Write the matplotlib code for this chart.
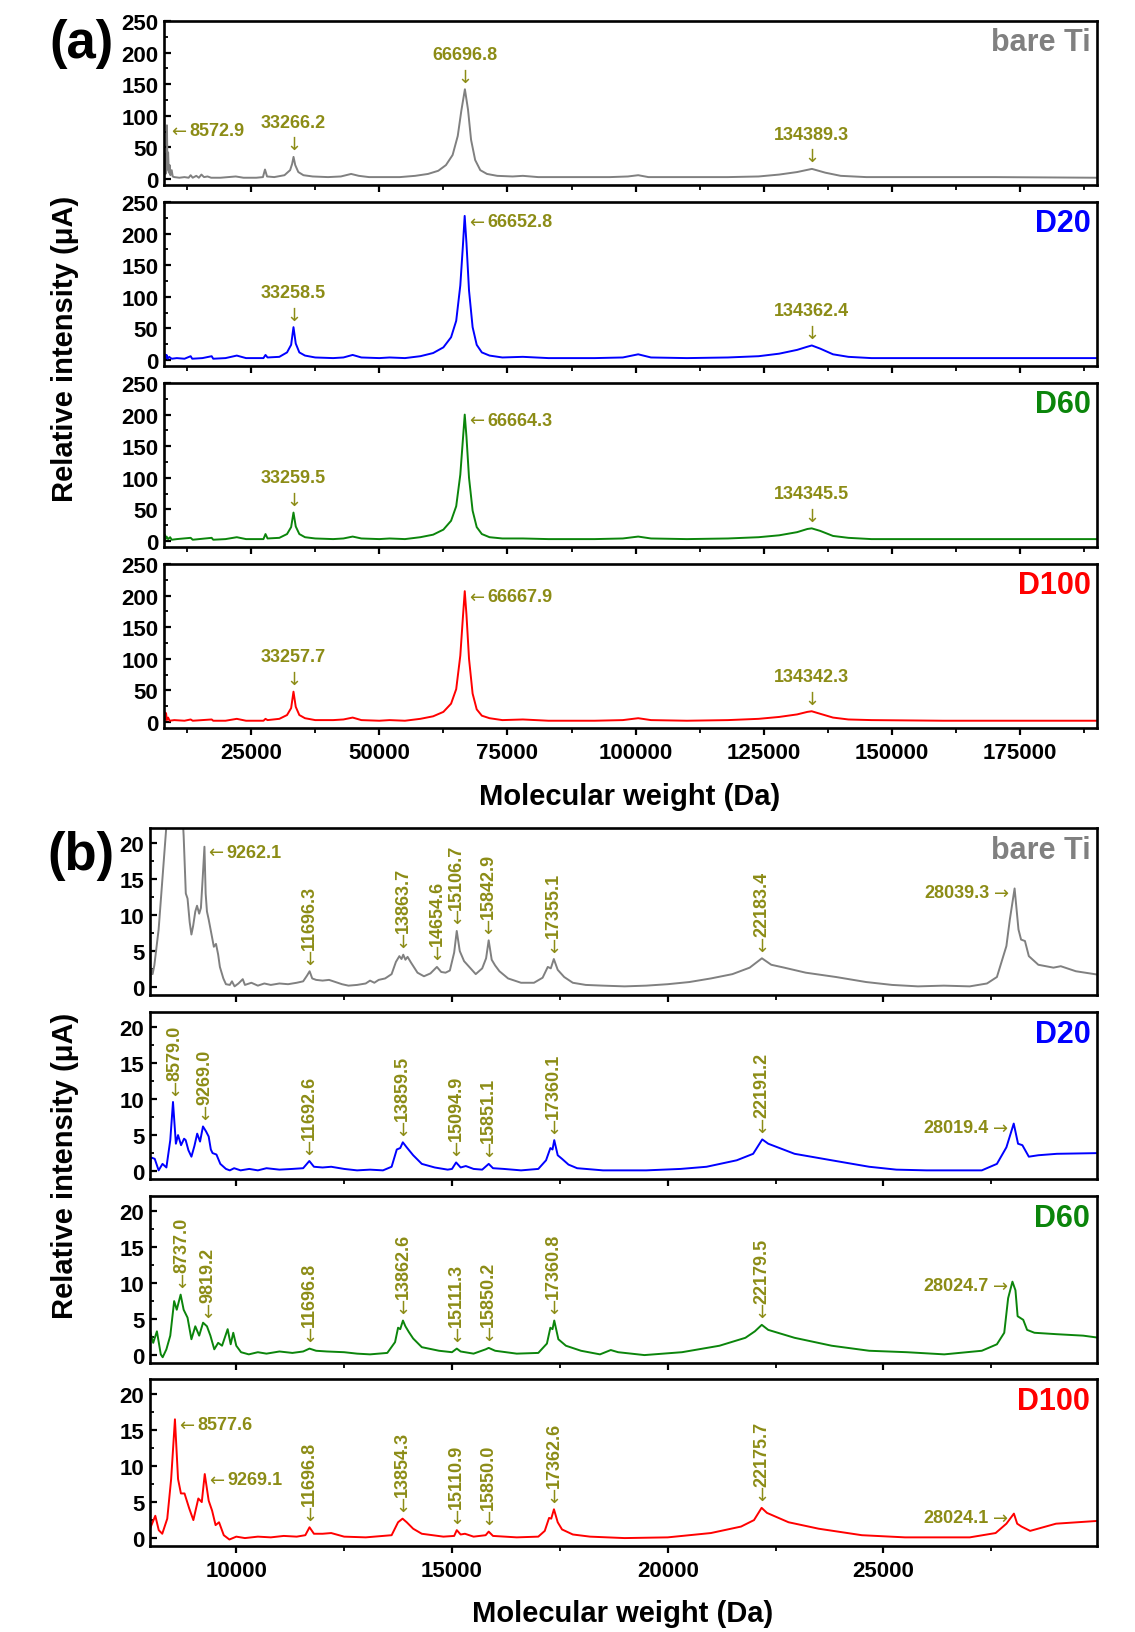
import matplotlib
matplotlib.use('Agg')
import matplotlib.pyplot as plt
from matplotlib.ticker import MultipleLocator
import numpy as np

plt.rcParams['font.family'] = ['Liberation Sans', 'DejaVu Sans']
plt.rcParams['font.weight'] = 'bold'

# ---------------- data ----------------
names = ['bare Ti', 'D20', 'D60', 'D100']
colors = ['#808080', '#0000ff', '#0b850b', '#ff0000']
ann_color = '#8c8c16'

# panel (a): full range spectra (x in Da, y in uA)
a_bare = [(8000, 3), (8150, 40), (8300, 8), (8450, 12), (8573, 85), (8680, 15), (8800, 42), (8950, 10),
          (9100, 22), (9250, 6), (9500, 14), (9700, 4), (10000, 3), (11000, 2), (12000, 3), (12800, 2),
          (13200, 6), (13600, 2), (14300, 5), (14800, 2), (15300, 7), (15800, 3), (16500, 4), (17200, 2),
          (19000, 2), (20500, 3), (22000, 4), (23500, 2), (26000, 2), (27300, 3), (27700, 15), (28100, 4),
          (29500, 3), (31500, 6), (32600, 14), (33000, 24), (33266, 35), (33600, 22), (34200, 11),
          (35200, 6), (37000, 4), (40000, 3), (42500, 4), (44500, 8), (46000, 5), (48000, 3), (51000, 3),
          (54000, 3), (57000, 5), (59500, 8), (61500, 13), (63000, 22), (64300, 38), (65300, 68),
          (66000, 108), (66697, 142), (67300, 110), (67900, 62), (68700, 30), (69700, 14), (71000, 8),
          (73000, 5), (76000, 4), (78000, 5), (81000, 3), (88000, 3), (95000, 3), (98500, 4),
          (100500, 6), (102500, 3), (110000, 3), (118000, 3), (124000, 4), (128000, 7), (131500, 11),
          (134389, 16), (137000, 10), (140000, 5), (145000, 3), (155000, 3), (170000, 3), (190000, 2)]
a_d20 = [(8000, 4), (8200, 9), (8350, 3), (8500, 8), (8700, 2), (9000, 5), (9500, 2), (10500, 3),
         (12000, 2), (13200, 6), (13500, 2), (15500, 3), (17300, 6), (17600, 2), (20000, 3), (22200, 7),
         (24000, 3), (27400, 3), (27800, 8), (28200, 4), (30500, 5), (32000, 12), (32800, 24),
         (33258, 52), (33700, 26), (34400, 12), (35500, 7), (37500, 4), (41000, 3), (43000, 4),
         (44800, 8), (46500, 4), (50000, 3), (52000, 4), (55000, 3), (58000, 6), (60500, 11),
         (62500, 20), (64000, 36), (65000, 62), (65800, 118), (66300, 180), (66653, 228), (67000, 185),
         (67500, 110), (68200, 52), (69000, 24), (70000, 12), (71500, 7), (74000, 4), (78000, 5),
         (83000, 3), (92000, 3), (97500, 4), (100500, 9), (103000, 4), (110000, 3), (118000, 4),
         (124000, 6), (128000, 10), (131500, 16), (133500, 21), (134362, 23), (136000, 18), (138500, 9),
         (141500, 5), (146000, 3), (160000, 3), (175000, 3), (190000, 3)]
a_d60 = [(8000, 5), (8150, 10), (8300, 3), (8500, 7), (8800, 3), (9200, 6), (9500, 2), (10500, 3),
         (13200, 5), (13600, 2), (17300, 5), (17600, 2), (20000, 3), (22200, 6), (24000, 3), (27400, 3),
         (27800, 11), (28200, 4), (30500, 5), (32000, 11), (32800, 22), (33260, 45), (33700, 23),
         (34400, 11), (35500, 6), (37500, 4), (41000, 3), (43000, 4), (44800, 7), (46500, 4), (50000, 3),
         (52000, 4), (55000, 3), (58000, 6), (60500, 10), (62500, 18), (64000, 32), (65000, 55),
         (65800, 105), (66300, 160), (66664, 200), (67000, 165), (67500, 100), (68200, 48), (69000, 22),
         (70000, 11), (71500, 6), (74000, 4), (78000, 4), (83000, 3), (92000, 3), (97500, 4),
         (100500, 7), (103000, 4), (110000, 3), (118000, 4), (124000, 6), (128000, 9), (131500, 14),
         (133500, 19), (134345, 20), (136000, 16), (138500, 8), (141500, 5), (146000, 3), (160000, 3),
         (175000, 3), (190000, 3)]
a_d100 = [(8000, 8), (8100, 16), (8250, 4), (8400, 14), (8550, 3), (8800, 7), (9100, 2), (10000, 3),
          (12000, 2), (13200, 4), (13600, 2), (17300, 4), (17600, 2), (20000, 2), (22200, 5), (24000, 2),
          (27400, 2), (27800, 5), (28200, 3), (30500, 5), (32000, 11), (32800, 22), (33258, 48),
          (33700, 24), (34400, 11), (35500, 6), (37500, 3), (41000, 3), (43000, 4), (44800, 7),
          (46500, 3), (50000, 2), (52000, 3), (55000, 2), (58000, 5), (60500, 9), (62500, 16),
          (64000, 29), (65000, 52), (65800, 105), (66300, 165), (66668, 207), (67000, 170), (67500, 100),
          (68200, 45), (69000, 20), (70000, 10), (71500, 6), (74000, 3), (78000, 4), (83000, 2),
          (92000, 2), (97500, 3), (100500, 6), (103000, 3), (110000, 2), (118000, 3), (124000, 5),
          (128000, 8), (131500, 12), (133500, 16), (134342, 17), (136000, 13), (138500, 7), (141500, 4),
          (146000, 3), (160000, 2), (175000, 2), (190000, 2)]

# peak labels (x, y, text, kind)
a_bare_pk = [(8573, 85, '8572.9', 'left'), (33266, 35, '33266.2', 'down'),
             (66697, 142, '66696.8', 'down'), (134389, 16, '134389.3', 'down')]
a_d20_pk = [(33258, 52, '33258.5', 'down'), (66653, 228, '66652.8', 'left'),
            (134362, 23, '134362.4', 'down')]
a_d60_pk = [(33260, 45, '33259.5', 'down'), (66664, 200, '66664.3', 'left'),
            (134345, 20, '134345.5', 'down')]
a_d100_pk = [(33258, 48, '33257.7', 'down'), (66668, 207, '66667.9', 'left'),
             (134342, 17, '134342.3', 'down')]

# panel (b): low mass region
b_bare = [(8000, 0.3), (8030, 2.5), (8060, 1.8), (8100, 3.0), (8200, 8), (8300, 16), (8400, 24), (8500, 34),
          (8600, 38), (8700, 30), (8780, 21), (8830, 13), (8870, 12.3), (8920, 9), (8960, 7.3), (9000, 8.5),
          (9050, 10.5), (9090, 11.3), (9140, 10.2), (9180, 11.0), (9220, 15), (9262, 19.5), (9290, 13),
          (9320, 10.5), (9360, 9.4), (9420, 7.5), (9480, 5.6), (9530, 6.0), (9580, 4.5), (9620, 2.8),
          (9700, 1.2), (9760, 0.4), (9850, 0.3), (9900, 0.8), (9960, 0.1), (10050, 0.5), (10150, 1.1),
          (10200, 0.3), (10350, 0.6), (10500, 0.2), (10650, 0.5), (10800, 0.3), (11000, 0.5), (11200, 0.4),
          (11400, 0.6), (11550, 0.8), (11640, 1.6), (11700, 2.2), (11760, 1.2), (11850, 1.0), (12000, 0.9),
          (12150, 1.0), (12300, 0.7), (12450, 0.4), (12600, 0.2), (12800, 0.3), (13000, 0.5), (13100, 0.9),
          (13200, 0.6), (13300, 1.0), (13450, 1.2), (13600, 1.8), (13700, 3.5), (13780, 4.3), (13830, 3.9),
          (13870, 4.5), (13920, 3.8), (13970, 4.2), (14050, 3.4), (14200, 2.0), (14350, 1.5), (14500, 1.9),
          (14650, 2.8), (14750, 2.1), (14850, 2.0), (14950, 2.3), (15050, 4.8), (15110, 7.8), (15180, 5.0),
          (15280, 3.6), (15400, 2.8), (15550, 1.8), (15700, 2.6), (15790, 4.0), (15850, 6.5), (15920, 3.8),
          (16000, 3.0), (16100, 2.2), (16300, 1.2), (16600, 0.6), (16900, 0.6), (17100, 1.3), (17220, 2.8),
          (17290, 2.6), (17360, 3.9), (17450, 2.4), (17600, 1.4), (17800, 0.6), (18100, 0.3), (18500, 0.2),
          (19000, 0.1), (19500, 0.2), (20000, 0.4), (20500, 0.7), (21000, 1.2), (21500, 1.8), (21900, 2.7),
          (22183, 4.0), (22400, 3.1), (22700, 2.7), (23200, 2.0), (23900, 1.4), (24600, 0.7), (25200, 0.3),
          (25800, 0.1), (26400, 0.2), (27000, 0.1), (27400, 0.5), (27630, 1.4), (27850, 5.7), (27930, 9.4),
          (28040, 13.7), (28130, 8.0), (28190, 6.6), (28280, 6.4), (28370, 4.3), (28590, 3.1), (28940, 2.7),
          (29110, 2.9), (29460, 2.2), (30000, 1.7)]
b_d20 = [(8000, 0.1), (8021, 1.9), (8110, 1.7), (8200, 0.1), (8290, 1.0), (8380, 0.5), (8470, 4.3), (8533, 9.6),
         (8600, 3.8), (8650, 5.0), (8720, 3.6), (8790, 4.5), (8827, 4.3), (8890, 2.9), (8960, 2.0), (9030, 3.5),
         (9094, 5.2), (9160, 4.1), (9228, 6.2), (9269, 5.8), (9300, 5.5), (9360, 4.8), (9410, 3.0), (9450, 2.5),
         (9540, 2.3), (9630, 1.0), (9760, 0.3), (9850, 0.1), (9950, 0.4), (10100, 0.1), (10300, 0.3),
         (10500, 0.1), (10700, 0.4), (11000, 0.2), (11300, 0.3), (11550, 0.4), (11693, 1.4), (11800, 0.6),
         (12000, 0.5), (12200, 0.6), (12500, 0.3), (12800, 0.1), (13100, 0.2), (13400, 0.1), (13600, 0.6),
         (13720, 3.0), (13800, 3.2), (13860, 4.0), (13950, 3.3), (14100, 2.2), (14300, 1.0), (14600, 0.5),
         (14900, 0.2), (15000, 0.3), (15095, 1.2), (15200, 0.5), (15320, 0.7), (15500, 0.3), (15700, 0.2),
         (15851, 1.0), (15950, 0.4), (16200, 0.3), (16600, 0.1), (17000, 0.3), (17180, 1.5), (17280, 3.2),
         (17330, 3.0), (17370, 4.3), (17450, 2.2), (17550, 1.7), (17700, 0.9), (17900, 0.4), (18500, 0.1),
         (19500, 0.1), (20300, 0.3), (20900, 0.6), (21600, 1.5), (21980, 2.4), (22191, 4.4), (22330, 3.8),
         (22940, 2.4), (23800, 1.5), (24670, 0.6), (25300, 0.2), (26000, 0.1), (27280, 0.1), (27630, 1.0),
         (27850, 3.3), (28020, 6.6), (28120, 3.8), (28220, 3.6), (28370, 2.0), (28590, 2.2), (29020, 2.4),
         (30000, 2.5)]
b_d60 = [(8000, 3.3), (8074, 1.7), (8160, 3.3), (8250, 0.1), (8294, -0.3), (8380, 0.8), (8470, 2.7), (8560, 7.5),
         (8620, 6.3), (8710, 8.4), (8780, 6.3), (8870, 5.2), (8960, 2.2), (9050, 4.0), (9140, 2.7), (9230, 4.5),
         (9320, 4.0), (9400, 2.7), (9490, 0.8), (9580, 1.7), (9670, 1.3), (9800, 3.6), (9870, 1.5), (9930, 3.1),
         (10000, 1.3), (10110, 0.4), (10290, 0.1), (10500, 0.4), (10700, 0.2), (11000, 0.5), (11300, 0.3),
         (11550, 0.5), (11697, 0.9), (11850, 0.6), (12100, 0.5), (12500, 0.4), (12800, 0.2), (13100, 0.1),
         (13500, 0.3), (13680, 1.8), (13750, 3.8), (13800, 3.6), (13863, 4.8), (13920, 4.0), (14000, 3.2),
         (14100, 2.3), (14300, 1.1), (14700, 0.6), (15000, 0.4), (15111, 0.9), (15200, 0.5), (15500, 0.2),
         (15780, 0.8), (15850, 1.0), (16000, 0.6), (16500, 0.2), (17000, 0.3), (17200, 1.6), (17280, 3.8),
         (17330, 3.6), (17370, 4.8), (17465, 2.2), (17640, 1.3), (17990, 0.6), (18430, 0.1), (18680, 0.7),
         (18850, 0.4), (19460, 0.0), (20330, 0.4), (21200, 1.3), (21800, 2.4), (22020, 3.3), (22180, 4.2),
         (22330, 3.5), (22940, 2.4), (23800, 1.3), (24670, 0.6), (25540, 0.4), (26410, 0.1), (27280, 0.6),
         (27630, 1.5), (27800, 3.1), (27890, 7.9), (27990, 10.2), (28060, 9.0), (28110, 5.4), (28240, 4.9),
         (28330, 3.5), (28500, 3.1), (29020, 2.9), (29630, 2.7), (30000, 2.4)]
b_d100 = [(8000, 1.3), (8123, 3.1), (8203, 1.1), (8284, 0.6), (8400, 2.7), (8490, 8.2), (8578, 16.5), (8650, 8.2),
          (8717, 6.2), (8800, 6.2), (8910, 4.1), (9005, 2.5), (9120, 5.5), (9200, 5.0), (9269, 8.9), (9360, 5.2),
          (9440, 3.8), (9520, 1.8), (9600, 2.2), (9710, 0.4), (9840, -0.2), (10000, 0.2), (10200, 0.0),
          (10500, 0.2), (10800, 0.1), (11100, 0.3), (11400, 0.2), (11600, 0.4), (11697, 1.5), (11800, 0.6),
          (12000, 0.6), (12200, 0.7), (12500, 0.2), (13000, 0.1), (13600, 0.4), (13750, 2.2), (13854, 2.7),
          (13950, 2.2), (14100, 1.3), (14300, 0.6), (14800, 0.2), (15050, 0.3), (15111, 1.1), (15200, 0.5),
          (15300, 0.6), (15500, 0.2), (15780, 0.4), (15850, 0.9), (15950, 0.3), (16500, 0.1), (17000, 0.2),
          (17150, 1.0), (17250, 2.8), (17300, 2.7), (17363, 4.0), (17450, 2.2), (17550, 1.2), (17800, 0.5),
          (18200, 0.2), (19000, 0.0), (20000, 0.1), (21000, 0.7), (21700, 1.6), (22000, 2.5), (22176, 4.2),
          (22300, 3.5), (22800, 2.2), (23500, 1.3), (24500, 0.4), (25500, 0.1), (27000, 0.1), (27600, 0.7),
          (27850, 2.0), (28024, 3.4), (28100, 2.0), (28200, 1.6), (28400, 1.0), (28700, 1.5), (29000, 2.0),
          (29500, 2.2), (30000, 2.4)]

b_bare_pk = [(9262, 19.5, '9262.1', 'left'), (11696, 2.2, '11696.3', 'vert'), (13864, 4.5, '13863.7', 'vert'),
             (14655, 2.8, '14654.6', 'vert'), (15107, 7.8, '15106.7', 'vert'), (15843, 6.5, '15842.9', 'vert'),
             (17355, 3.9, '17355.1', 'vert'), (22183, 4.0, '22183.4', 'vert'), (28039, 13.7, '28039.3', 'right')]
b_d20_pk = [(8579, 9.6, '8579.0', 'vert'), (9269, 6.2, '9269.0', 'vert'), (11693, 1.4, '11692.6', 'vert'),
            (13860, 4.0, '13859.5', 'vert'), (15095, 1.2, '15094.9', 'vert'), (15851, 1.0, '15851.1', 'vert'),
            (17360, 4.3, '17360.1', 'vert'), (22191, 4.4, '22191.2', 'vert'), (28019, 6.6, '28019.4', 'right')]
b_d60_pk = [(8737, 8.4, '8737.0', 'vert'), (9340, 4.3, '9819.2', 'vert'), (11697, 0.9, '11696.8', 'vert'),
            (13863, 4.8, '13862.6', 'vert'), (15111, 0.9, '15111.3', 'vert'), (15850, 1.0, '15850.2', 'vert'),
            (17361, 4.8, '17360.8', 'vert'), (22180, 4.2, '22179.5', 'vert'), (28025, 10.2, '28024.7', 'right')]
b_d100_pk = [(8578, 16.5, '8577.6', 'left'), (9269, 8.9, '9269.1', 'left'), (11697, 1.5, '11696.8', 'vert'),
             (13854, 2.7, '13854.3', 'vert'), (15111, 1.1, '15110.9', 'vert'), (15850, 0.9, '15850.0', 'vert'),
             (17363, 4.0, '17362.6', 'vert'), (22176, 4.2, '22175.7', 'vert'), (28024, 3.4, '28024.1', 'right')]

a_series = [a_bare, a_d20, a_d60, a_d100]
a_peaks = [a_bare_pk, a_d20_pk, a_d60_pk, a_d100_pk]
b_series = [b_bare, b_d20, b_d60, b_d100]
b_peaks = [b_bare_pk, b_d20_pk, b_d60_pk, b_d100_pk]

# ---------------- layout ----------------
W, H = 1135, 1633
fig = plt.figure(figsize=(W / 100, H / 100), dpi=100)


def box(left, top, right, h):
    return [left / W, 1 - (top + h) / H, (right - left) / W, h / H]


def mark(ax, x, y, label, kind):
    kw = dict(textcoords='offset points', color=ann_color, fontsize=13, fontweight='bold')
    akw = dict(textcoords='offset points', color=ann_color, fontsize=13, fontweight='normal',
               family='DejaVu Sans')
    if kind == 'down':
        ax.annotate(label, (x, y), xytext=(0, 25), ha='center', va='center', **kw)
        ax.annotate('\u2193', (x, y), xytext=(0, 9), ha='center', va='center', **akw)
    elif kind == 'left':
        ax.annotate('\u2190', (x, y), xytext=(3, -4), ha='left', va='center', **akw)
        ax.annotate(label, (x, y), xytext=(16, -4), ha='left', va='center', **kw)
    elif kind == 'right':
        ax.annotate('\u2192', (x, y), xytext=(-4, -3), ha='right', va='center', **akw)
        ax.annotate(label, (x, y), xytext=(-18, -3), ha='right', va='center', **kw)
    else:
        ax.annotate('\u2193', (x, y), xytext=(0, 9), ha='center', va='center', **akw)
        ax.annotate(label, (x, y), xytext=(0, 16), ha='center', va='bottom', rotation=90, **kw)


def panel(series, peaks, left, tops, h, xlim, ylim, xmaj, xmin, ymaj, ymin):
    axes = []
    for i, (pts, pk) in enumerate(zip(series, peaks)):
        ax = fig.add_axes(box(left, tops[i], 1097, h))
        xy = np.array(pts, dtype=float)
        ax.plot(xy[:, 0], xy[:, 1], color=colors[i], lw=1.4)
        for (px, py, lab, kind) in pk:
            mark(ax, px, py, lab, kind)
        ax.set_xlim(*xlim)
        ax.set_ylim(*ylim)
        ax.xaxis.set_major_locator(MultipleLocator(xmaj))
        ax.xaxis.set_minor_locator(MultipleLocator(xmin))
        ax.yaxis.set_major_locator(MultipleLocator(ymaj))
        ax.yaxis.set_minor_locator(MultipleLocator(ymin))
        ax.tick_params(axis='x', which='major', direction='out', length=5, width=1.6, labelsize=16, pad=5)
        ax.tick_params(axis='x', which='minor', direction='out', length=3.5, width=1.3)
        ax.tick_params(axis='y', which='major', direction='in', length=5, width=1.6, labelsize=16, pad=4)
        ax.tick_params(axis='y', which='minor', direction='in', length=3, width=1.3)
        if i < 3:
            ax.tick_params(axis='x', labelbottom=False)
        for s in ax.spines.values():
            s.set_linewidth(1.9)
        ax.text(0.993, 0.87, names[i], transform=ax.transAxes, ha='right', va='center',
                fontsize=22, fontweight='bold', color=colors[i])
        axes.append(ax)
    return axes


panel(a_series, a_peaks, 164, [22, 203, 384, 565], 164, (8000, 190000), (-9.5, 250),
      25000, 12500, 50, 25)
panel(b_series, b_peaks, 150, [829, 1013, 1197, 1380], 167, (8000, 29950), (-1.1, 22.1),
      5000, 2500, 5, 2.5)

fig.text(81 / W, 1 - 44 / H, '(a)', fontsize=38, fontweight='bold', ha='center', va='center')
fig.text(81 / W, 1 - 856 / H, '(b)', fontsize=38, fontweight='bold', ha='center', va='center')
fig.text(65 / W, 1 - 349 / H, 'Relative intensity (\u03bcA)', rotation=90, fontsize=21,
         fontweight='bold', ha='center', va='center')
fig.text(65 / W, 1 - 1166 / H, 'Relative intensity (\u03bcA)', rotation=90, fontsize=21,
         fontweight='bold', ha='center', va='center')
fig.text(630 / W, 1 - 797 / H, 'Molecular weight (Da)', fontsize=21, fontweight='bold',
         ha='center', va='center')
fig.text(623 / W, 1 - 1614 / H, 'Molecular weight (Da)', fontsize=21, fontweight='bold',
         ha='center', va='center')

fig.savefig('out.png', dpi=100)
